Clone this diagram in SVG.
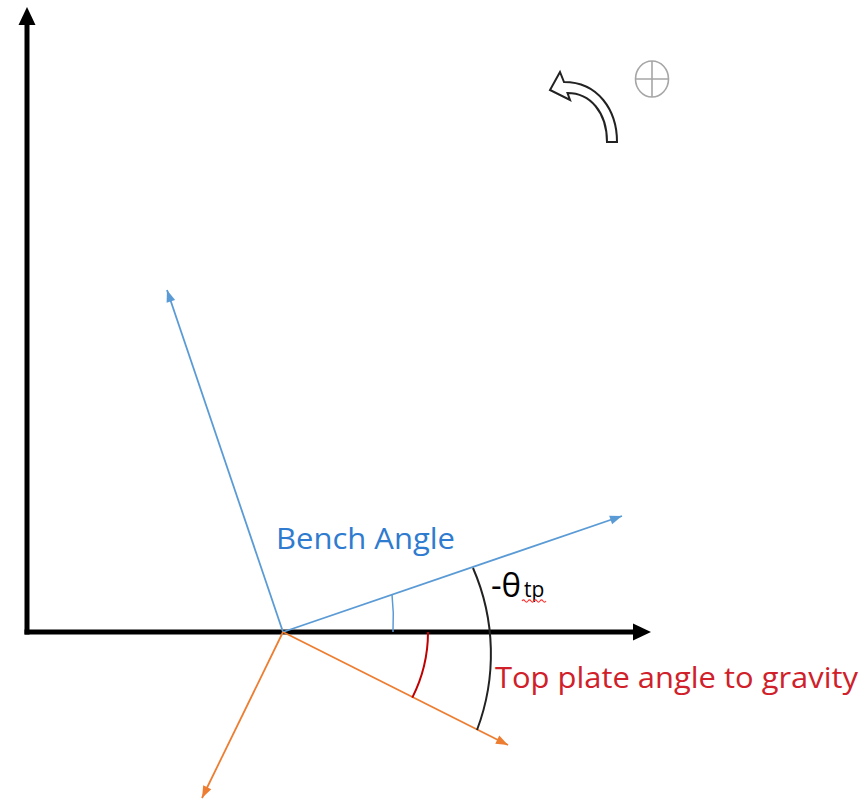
<svg xmlns="http://www.w3.org/2000/svg" width="864" height="802" viewBox="0 0 864 802">
<style>
  .axis { stroke:#000; stroke-width:5; fill:none; }
  .blue { stroke:#5b9bd5; stroke-width:1.8; fill:none; }
  .orange { stroke:#ed7d31; stroke-width:1.8; fill:none; }
  .lbl { font-family:"Open Sans","Noto Sans","Liberation Sans",sans-serif; }
</style>
<defs>
  <marker id="headBlack" markerUnits="userSpaceOnUse" markerWidth="18" markerHeight="18" refX="0" refY="8.5" orient="auto" overflow="visible">
    <path d="M0,0 L18,8.5 L0,17 Z" fill="#000"/>
  </marker>
  <marker id="headBlue" markerUnits="userSpaceOnUse" markerWidth="13" markerHeight="10" refX="12" refY="4.5" orient="auto" overflow="visible">
    <path d="M0,0 L12,4.5 L0,9 Z" fill="#5b9bd5"/>
  </marker>
  <marker id="headOrange" markerUnits="userSpaceOnUse" markerWidth="13" markerHeight="10" refX="12" refY="4.5" orient="auto" overflow="visible">
    <path d="M0,0 L12,4.5 L0,9 Z" fill="#ed7d31"/>
  </marker>
</defs>
<rect width="864" height="802" fill="#fff"/>

<g id="connectors">
  <line id="y-axis" class="axis" x1="27" y1="634.5" x2="27" y2="25" marker-end="url(#headBlack)"/>
  <line id="x-axis" class="axis" x1="24.5" y1="632" x2="633" y2="632" marker-end="url(#headBlack)"/>
  <line id="bench-normal" class="blue" x1="283" y1="632" x2="167" y2="290" marker-end="url(#headBlue)"/>
  <line id="bench-surface" class="blue" x1="283" y1="632" x2="622" y2="516" marker-end="url(#headBlue)"/>
  <line id="plate-surface" class="orange" x1="283" y1="632" x2="508" y2="745" marker-end="url(#headOrange)"/>
  <line id="plate-normal" class="orange" x1="283" y1="632" x2="202" y2="798" marker-end="url(#headOrange)"/>
  <path id="bench-arc" d="M393,632 A220,220 0 0 0 392,594.5" stroke="#5b9bd5" stroke-width="1.5" fill="none"/>
  <path id="plate-arc" d="M428,632 A145,145 0 0 1 412.3,697.6" stroke="#c00000" stroke-width="2" fill="none"/>
  <path id="theta-arc" d="M473,568 A215,215 0 0 1 477,730" stroke="#222" stroke-width="2" fill="none"/>
</g>

<g id="rotation-arrow">
  <path d="M560,72 L550,90 L570,100 L567.5,93 C590,93 607,112 607,142 L617,142 C617,110 598,82 564,82 Z" fill="#fff" stroke="#222" stroke-width="2" stroke-linejoin="miter"/>
</g>

<g id="earth-symbol">
  <ellipse cx="652" cy="79" rx="16.5" ry="18" fill="none" stroke="#a6a6a6" stroke-width="1.6"/>
  <line x1="652" y1="61" x2="652" y2="97" stroke="#a6a6a6" stroke-width="1.6"/>
  <line x1="635.5" y1="79" x2="668.5" y2="79" stroke="#a6a6a6" stroke-width="1.6"/>
</g>

<g id="label-bench">
  <text class="lbl" x="276" y="549" font-size="30" fill="#2e7bcf" textLength="179" lengthAdjust="spacingAndGlyphs">Bench Angle</text>
</g>

<g id="label-theta">
  <text class="lbl" x="491" y="597" font-size="33" fill="#000">-θ<tspan x="524" font-size="21">tp</tspan></text>
  <path d="M522,601 q1.5,-2.2 3,0 t3,0 t3,0 t3,0 t3,0 t3,0 t3,0 t3,0" stroke="#ff3030" stroke-width="1.1" fill="none"/>
</g>

<g id="label-plate">
  <text class="lbl" x="495" y="688" font-size="30" fill="#d0202a" textLength="363" lengthAdjust="spacingAndGlyphs">Top plate angle to gravity</text>
</g>
</svg>
